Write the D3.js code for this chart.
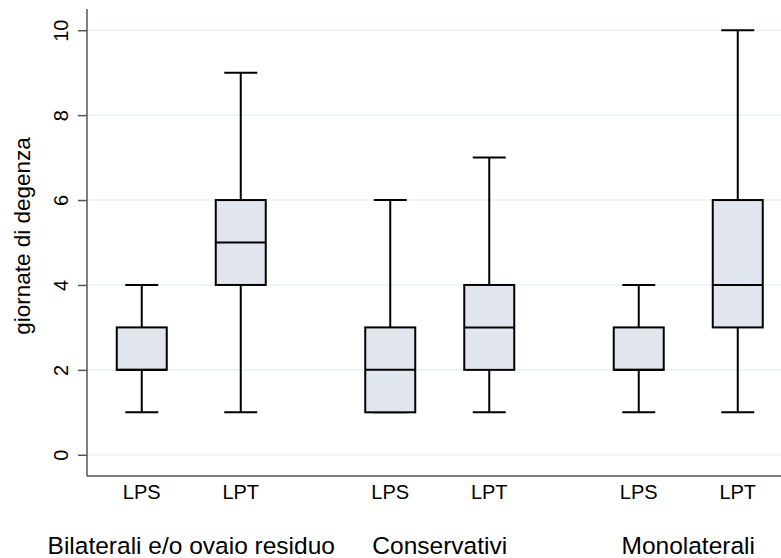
<!DOCTYPE html>
<html>
<head>
<meta charset="utf-8">
<script src="https://cdn.jsdelivr.net/npm/d3@7"></script>
<style>
  html, body { margin: 0; padding: 0; background: #fff; }
  svg { display: block; }
  text { font-family: "Liberation Sans", Arial, sans-serif; fill: #000; }
</style>
</head>
<body>
<svg id="chart" width="781" height="558"></svg>
<script>
// Length of stay (days) by surgery type and approach
const groups = ["Bilaterali e/o ovaio residuo", "Conservativi", "Monolaterali"];
const approaches = ["LPS", "LPT"];
const whiskerLow  = [1, 1,  1, 1,  1, 1];
const q1          = [2, 4,  1, 2,  2, 3];
const median      = [2, 5,  2, 3,  2, 4];
const q3          = [3, 6,  3, 4,  3, 6];
const whiskerHigh = [4, 9,  6, 7,  4, 10];
const yTicks = [0, 2, 4, 6, 8, 10];

const svg = d3.select("#chart");
const plotLeft = 87, plotRight = 781, plotTop = 9, plotBottom = 476;

const y = d3.scaleLinear().domain([-0.5, 10.5]).range([plotBottom, plotTop]);

// Three equal group slots; the last one runs past the right edge of the plot
const xGroup = d3.scaleBand().domain(groups).range([67, 812.5]);
const xInner = d3.scaleBand().domain(approaches).range([0, xGroup.bandwidth()])
  .paddingInner(0.495).paddingOuter(0.5025);

const boxes = [];
groups.forEach((g, gi) => approaches.forEach((a, ai) => {
  const i = gi * 2 + ai;
  boxes.push({ g, a, lo: whiskerLow[i], q1: q1[i], med: median[i], q3: q3[i], hi: whiskerHigh[i] });
}));

// Grid lines
svg.append("g").selectAll("line").data(yTicks).join("line")
  .attr("x1", plotLeft).attr("x2", plotRight)
  .attr("y1", d => y(d)).attr("y2", d => y(d))
  .attr("stroke", "#eaf2f3").attr("stroke-width", 1.5);

// Y axis
const yAxis = svg.append("g").attr("transform", `translate(${plotLeft},0)`)
  .call(d3.axisLeft(y).tickValues(yTicks).tickSize(9).tickSizeOuter(0));
yAxis.select(".domain").attr("stroke", "#555").attr("stroke-width", 1.5)
  .attr("d", `M0,${plotTop}V${plotBottom}`);
yAxis.selectAll(".tick line").attr("stroke", "#555").attr("stroke-width", 1.5);
yAxis.selectAll(".tick text")
  .attr("font-size", 20).attr("font-family", "Liberation Sans, Arial, sans-serif")
  .attr("text-anchor", "middle")
  .attr("x", 0).attr("dy", null).attr("y", 0)
  .attr("transform", "translate(-19.5,0) rotate(-90)")
  .attr("fill", "#000");

// X axis baseline
svg.append("line").attr("x1", plotLeft).attr("x2", plotRight)
  .attr("y1", plotBottom).attr("y2", plotBottom)
  .attr("stroke", "#555").attr("stroke-width", 1.5);

// Boxes
const bw = xInner.bandwidth();
const capW = bw * 0.66;
const gBox = svg.append("g").selectAll("g").data(boxes).join("g")
  .attr("transform", d => `translate(${xGroup(d.g) + xInner(d.a) + bw / 2},0)`);

gBox.append("line").attr("x1", 0).attr("x2", 0)
  .attr("y1", d => y(d.hi)).attr("y2", d => y(d.q3))
  .attr("stroke", "#000").attr("stroke-width", 2);
gBox.append("line").attr("x1", 0).attr("x2", 0)
  .attr("y1", d => y(d.q1)).attr("y2", d => y(d.lo))
  .attr("stroke", "#000").attr("stroke-width", 2);
gBox.append("line").attr("x1", -capW / 2).attr("x2", capW / 2)
  .attr("y1", d => y(d.hi)).attr("y2", d => y(d.hi))
  .attr("stroke", "#000").attr("stroke-width", 2);
gBox.append("line").attr("x1", -capW / 2).attr("x2", capW / 2)
  .attr("y1", d => y(d.lo)).attr("y2", d => y(d.lo))
  .attr("stroke", "#000").attr("stroke-width", 2);
gBox.append("rect").attr("x", -bw / 2).attr("width", bw)
  .attr("y", d => y(d.q3)).attr("height", d => y(d.q1) - y(d.q3))
  .attr("fill", "#e1e5ed").attr("stroke", "#000").attr("stroke-width", 2);
gBox.append("line").attr("x1", -bw / 2).attr("x2", bw / 2)
  .attr("y1", d => y(d.med)).attr("y2", d => y(d.med))
  .attr("stroke", "#000").attr("stroke-width", 2);

// Approach labels
gBox.append("text").attr("y", 499).attr("text-anchor", "middle")
  .attr("font-size", 20).text(d => d.a);

// Group labels
svg.append("g").selectAll("text").data(groups).join("text")
  .attr("x", d => xGroup(d) + xGroup.bandwidth() / 2).attr("y", 554)
  .attr("text-anchor", "middle").attr("font-size", 24.5).text(d => d);

// Y axis title
svg.append("text").attr("transform", "translate(30,236) rotate(-90)")
  .attr("text-anchor", "middle").attr("font-size", 22.5).text("giornate di degenza");
</script>
</body>
</html>
